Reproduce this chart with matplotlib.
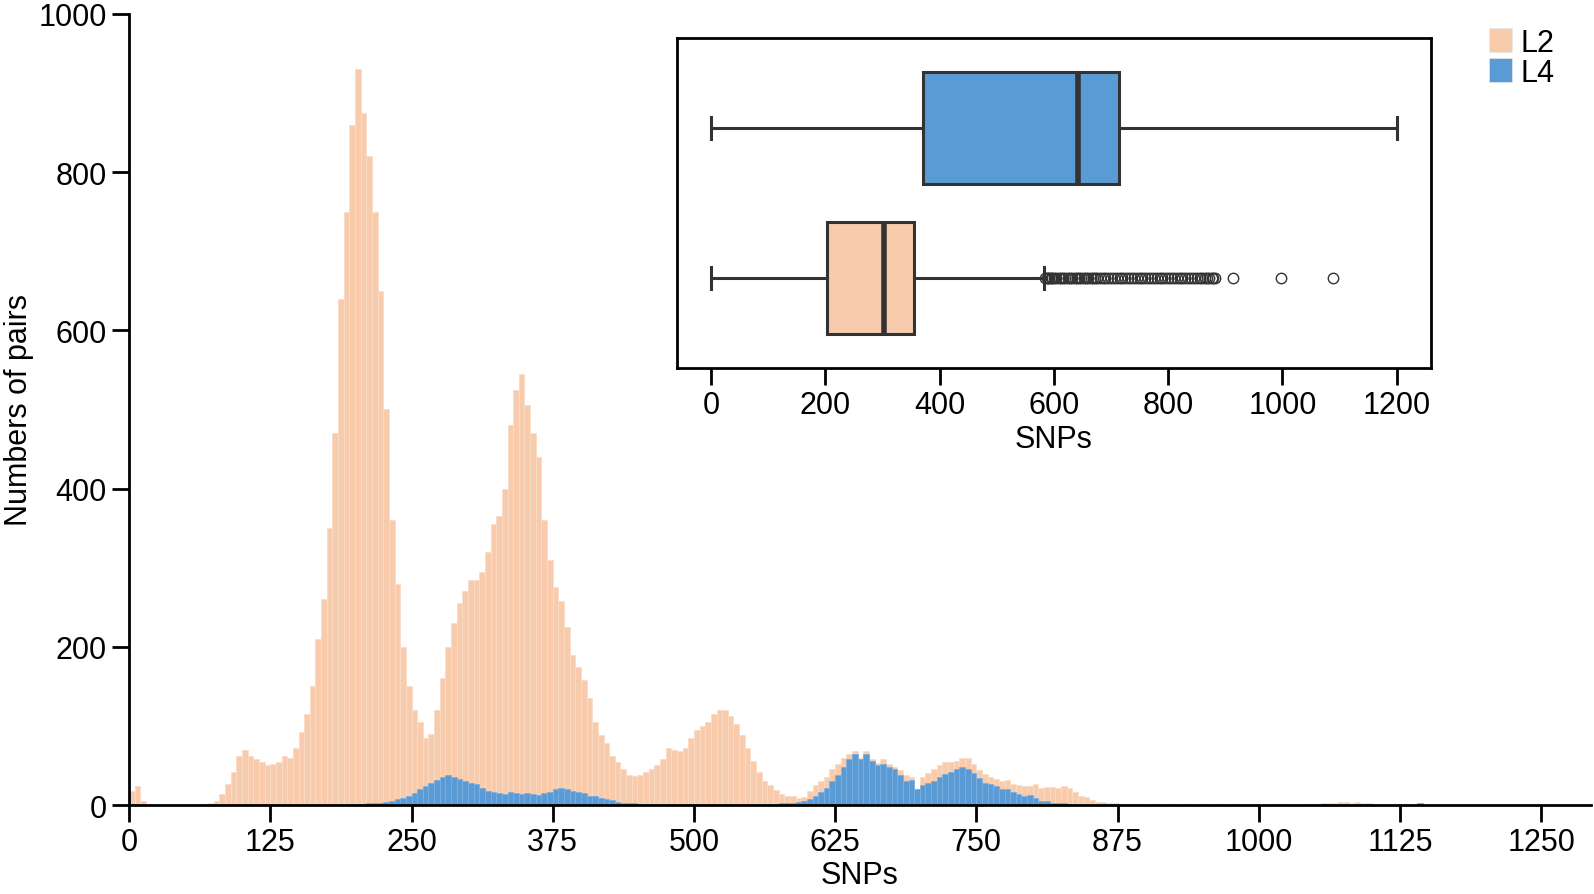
import numpy as np
import matplotlib
matplotlib.use("Agg")
import matplotlib.pyplot as plt
from matplotlib.patches import Patch

plt.rcParams['font.family'] = ['Liberation Sans', 'DejaVu Sans']

# histogram bins (start of each 5-SNP bin)
snp_bins = np.arange(0, 1295, 5)

# pair counts per bin, rows of 50 SNPs
l2_counts = [
    18, 24, 5, 1, 0, 0, 0, 0, 0, 0,
    0, 0, 0, 1, 2, 5, 14, 26, 42, 62,
    70, 62, 58, 55, 50, 52, 55, 62, 60, 72,
    92, 115, 150, 210, 260, 350, 470, 640, 750, 860,
    930, 875, 820, 750, 650, 500, 360, 280, 200, 150,
    120, 105, 85, 90, 120, 160, 200, 230, 255, 270,
    285, 285, 295, 320, 355, 365, 400, 480, 525, 545,
    505, 470, 440, 360, 310, 275, 258, 225, 190, 175,
    158, 135, 105, 88, 78, 62, 54, 46, 38, 37,
    38, 42, 45, 50, 58, 72, 70, 68, 72, 85,
    95, 100, 105, 115, 120, 120, 112, 102, 88, 72,
    56, 42, 30, 25, 19, 14, 11, 11, 9, 10,
    18, 25, 30, 35, 45, 52, 60, 65, 68, 60,
    68, 58, 53, 58, 52, 48, 44, 38, 36, 20,
    36, 40, 45, 50, 54, 55, 56, 60, 60, 52,
    44, 39, 36, 33, 31, 32, 27, 25, 24, 24,
    26, 21, 23, 23, 22, 24, 22, 16, 12, 10,
    6, 4, 4, 3, 2, 1, 1, 0, 1, 0,
    0, 1, 0, 0, 1, 0, 0, 1, 0, 0,
    1, 0, 0, 1, 0, 0, 1, 0, 0, 1,
    0, 0, 1, 0, 1, 0, 0, 0, 1, 1,
    1, 2, 2, 3, 4, 4, 3, 4, 3, 2,
    1, 0, 0, 0, 0, 0, 0, 0, 0, 0,
    0, 0, 0, 0, 0, 0, 0, 0, 0, 0,
    0, 0, 0, 0, 0, 0, 0, 0, 0, 0,
    0, 0, 0, 0, 0, 0, 0, 0, 0,
]

l4_counts = [
    1, 0, 0, 0, 0, 0, 0, 0, 0, 0,
    0, 0, 0, 0, 0, 0, 0, 0, 0, 0,
    0, 0, 0, 0, 0, 0, 0, 0, 0, 0,
    0, 0, 0, 0, 0, 0, 0, 0, 0, 1,
    1, 1, 2, 2, 3, 4, 5, 7, 9, 12,
    15, 20, 24, 28, 32, 36, 38, 35, 33, 30,
    28, 26, 22, 18, 16, 15, 14, 16, 15, 14,
    15, 14, 13, 15, 17, 20, 21, 20, 18, 17,
    15, 12, 11, 9, 7, 6, 4, 3, 2, 2,
    1, 1, 1, 0, 0, 0, 0, 0, 0, 0,
    0, 0, 0, 0, 0, 0, 0, 0, 0, 0,
    0, 1, 1, 1, 1, 2, 2, 3, 4, 5,
    8, 12, 16, 22, 30, 38, 48, 58, 64, 58,
    65, 56, 50, 52, 48, 45, 38, 31, 32, 20,
    25, 28, 31, 36, 39, 42, 45, 48, 46, 40,
    34, 28, 26, 24, 20, 20, 16, 14, 12, 13,
    9, 5, 5, 3, 2, 2, 1, 1, 0, 0,
    0, 0, 0, 0, 0, 0, 0, 0, 0, 0,
    0, 0, 0, 0, 0, 0, 0, 0, 0, 0,
    0, 0, 0, 0, 0, 0, 0, 0, 0, 0,
    0, 0, 0, 0, 0, 0, 0, 0, 0, 0,
    0, 0, 0, 0, 0, 0, 0, 0, 0, 0,
    0, 0, 0, 0, 0, 0, 0, 0, 2, 0,
    0, 0, 0, 0, 0, 0, 0, 0, 0, 0,
    0, 0, 0, 0, 0, 0, 0, 0, 0, 0,
    0, 0, 0, 0, 0, 0, 0, 0, 0,
]

# inset boxplot summary
groups = ['L2', 'L4']
box_q1 = [202, 371]
box_median = [303, 642]
box_q3 = [355, 714]
whisker_low = [0, 0]
whisker_high = [583, 1200]
l2_outliers = [585, 587, 589, 591, 594, 597, 600, 604, 608, 612, 616, 620,
               624, 628, 632, 636, 640, 644, 648, 652, 656, 660, 664, 668,
               672, 676, 680, 685, 690, 695, 700, 705, 710, 715, 720, 725,
               730, 735, 740, 745, 750, 755, 760, 765, 770, 775, 780, 785,
               790, 795, 800, 805, 810, 815, 820, 825, 830, 835, 840, 845,
               850, 855, 860, 864, 868, 872, 876, 879, 882, 913, 997, 1089]
l4_outliers = []

c_l2 = '#f7cbac'
c_l4 = '#5b9bd5'
fs = 22

fig = plt.figure(figsize=(15.94, 8.95), dpi=100)
ax = fig.add_axes([0.081, 0.0994, 0.917, 0.884])

ax.bar(snp_bins, l2_counts, width=5, align='edge', color=c_l2,
       edgecolor='#fadcc6', linewidth=0.6)
ax.bar(snp_bins, l4_counts, width=5, align='edge', color=c_l4,
       edgecolor='#7bb0e0', linewidth=0.6)

ax.set_xlim(0, 1294)
ax.set_ylim(0, 1000)
ax.set_xticks(np.arange(0, 1251, 125))
ax.set_yticks(np.arange(0, 1001, 200))
for s in ['top', 'right']:
    ax.spines[s].set_visible(False)
for s in ['left', 'bottom']:
    ax.spines[s].set_linewidth(2)
ax.tick_params(length=12, width=2, labelsize=fs, pad=4)
ax.set_xlabel('SNPs', fontsize=fs, labelpad=2)
ax.set_ylabel('Numbers of pairs', fontsize=fs, labelpad=3)

# legend
handles = [Patch(facecolor=c_l2, edgecolor='#e8e8e8', linewidth=0.5),
           Patch(facecolor=c_l4, edgecolor='#e8e8e8', linewidth=0.5)]
fig.legend(handles, groups, loc='upper left', bbox_to_anchor=(0.934, 0.968),
           frameon=False, fontsize=fs, handlelength=0.75, handleheight=0.85,
           labelspacing=0.0, handletextpad=0.3, borderpad=0, borderaxespad=0)

# inset boxplot
axin = fig.add_axes([0.4247, 0.5877, 0.473, 0.3687])
fliers = [l2_outliers, l4_outliers]
stats = []
for i in range(len(groups)):
    stats.append(dict(label=groups[i], whislo=whisker_low[i], q1=box_q1[i],
                      med=box_median[i], q3=box_q3[i], whishi=whisker_high[i],
                      fliers=fliers[i]))
dark = '#333333'
bp = axin.bxp(stats, positions=[0, 1], vert=False, widths=0.75,
              patch_artist=True, capwidths=0.15,
              boxprops=dict(edgecolor=dark, linewidth=2.2),
              whiskerprops=dict(color=dark, linewidth=2.2),
              capprops=dict(color=dark, linewidth=2.2),
              medianprops=dict(color=dark, linewidth=4),
              flierprops=dict(marker='o', markerfacecolor='none',
                              markeredgecolor=dark, markersize=7.5,
                              markeredgewidth=1))
for patch, col in zip(bp['boxes'], [c_l2, c_l4]):
    patch.set_facecolor(col)

axin.set_xlim(-60, 1260)
axin.set_ylim(-0.6, 1.6)
axin.set_yticks([])
axin.set_xticks(np.arange(0, 1201, 200))
for s in axin.spines.values():
    s.set_linewidth(2)
axin.tick_params(axis='x', length=12, width=2, labelsize=fs, pad=4)
axin.set_xlabel('SNPs', fontsize=fs, labelpad=3)

fig.savefig('out.png', dpi=100)
